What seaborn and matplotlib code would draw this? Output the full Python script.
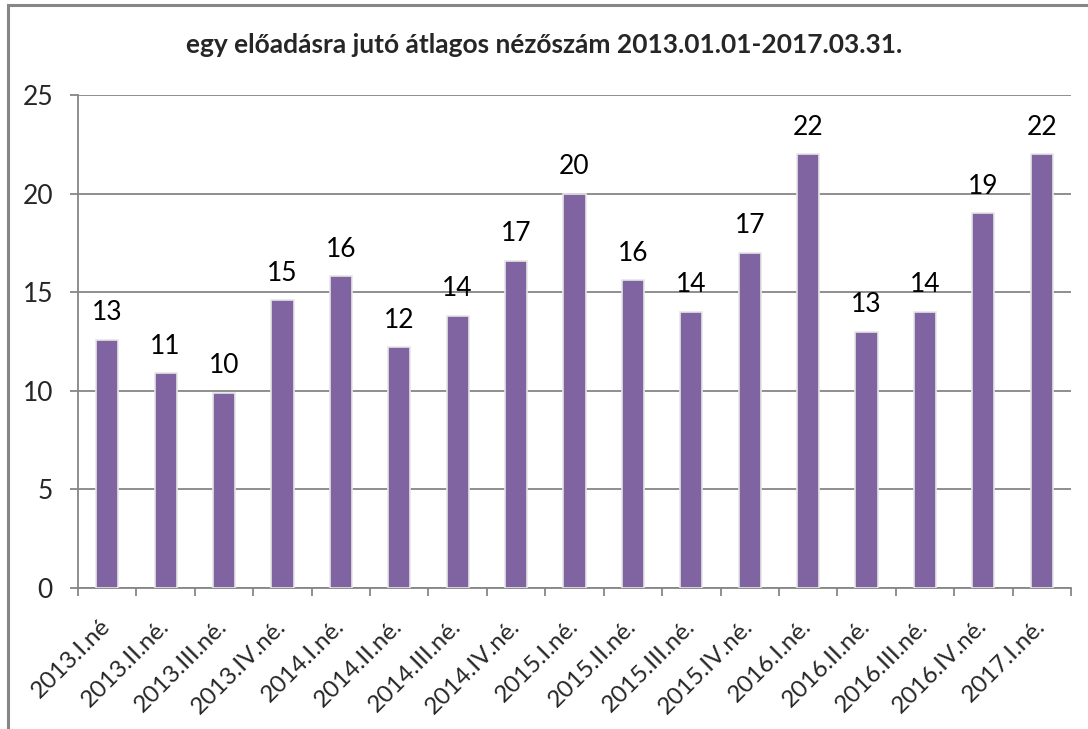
import matplotlib
matplotlib.use("Agg")
import matplotlib.pyplot as plt
import matplotlib.patches as mpatches
import seaborn as sns
import pandas as pd
import numpy as np

# data
quarters = [
    "2013.I.né", "2013.II.né.", "2013.III.né.", "2013.IV.né.",
    "2014.I.né.", "2014.II.né.", "2014.III.né.", "2014.IV.né.",
    "2015.I.né.", "2015.II.né.", "2015.III.né.", "2015.IV.né.",
    "2016.I.né.", "2016.II.né.", "2016.III.né.", "2016.IV.né.",
    "2017.I.né.",
]
avg_viewers = [12.6, 10.9, 9.9, 14.6, 15.8, 12.2, 13.8, 16.6, 20.0,
               15.6, 14.0, 17.0, 22.0, 13.0, 14.0, 19.0, 22.0]
y_ticks = [0, 5, 10, 15, 20, 25]
title = "egy előadásra jutó átlagos nézőszám 2013.01.01-2017.03.31."

bar_color = "#8064A2"
grid_color = "#868686"

sns.set_theme(style="white")
plt.rcParams["font.family"] = ["Lato", "DejaVu Sans"]

df = pd.DataFrame({"quarter": quarters, "value": avg_viewers})

fig = plt.figure(figsize=(10.88, 7.29), dpi=100)
ax = fig.add_axes([78 / 1088, 1 - 588 / 729, (1071 - 78) / 1088, (588 - 95) / 729])

sns.barplot(data=df, x="quarter", y="value", color=bar_color, saturation=1,
            width=0.38, edgecolor="#e6e6e6", linewidth=1.2, ax=ax, zorder=3)

# value labels above bars
for i, v in enumerate(avg_viewers):
    ax.annotate(f"{round(v):d}", (i, v), xytext=(0, 14), textcoords="offset points",
                ha="center", va="baseline", fontsize=19, color="black")

ax.set_ylim(0, 25)
ax.set_xlim(-0.5, len(quarters) - 0.5)
ax.set_yticks(y_ticks)
ax.yaxis.grid(True, color=grid_color, linewidth=1.3, zorder=0)
ax.set_axisbelow(True)
ax.set_xlabel("")
ax.set_ylabel("")

for side in ["top", "right"]:
    ax.spines[side].set_visible(False)
for side in ["left", "bottom"]:
    ax.spines[side].set_color(grid_color)
    ax.spines[side].set_linewidth(1.3)

ax.tick_params(axis="y", which="major", left=True, length=6, width=1.3,
               color=grid_color, pad=12, labelsize=19)
ax.set_xticks(range(len(quarters)))
ax.set_xticklabels(quarters, rotation=45, ha="right", va="center",
                   rotation_mode="anchor", fontsize=17.5)
ax.tick_params(axis="x", which="major", bottom=False, length=0, pad=25)
ax.set_xticks(np.arange(-0.5, len(quarters), 1.0), minor=True)
ax.tick_params(axis="x", which="minor", bottom=True, length=5.5, width=1.3,
               color=grid_color)

fig.text(0.5, 1 - 45 / 729, title, ha="center", va="center",
         fontsize=19, fontweight="bold")

# outer chart frame (left and top edges visible)
frame = mpatches.Rectangle((8 / 1088, -0.2), 1.2, 1.2 - 5 / 729,
                           transform=fig.transFigure, fill=False,
                           edgecolor=grid_color, linewidth=2.2)
fig.patches.append(frame)

fig.savefig("out.png", dpi=100)
